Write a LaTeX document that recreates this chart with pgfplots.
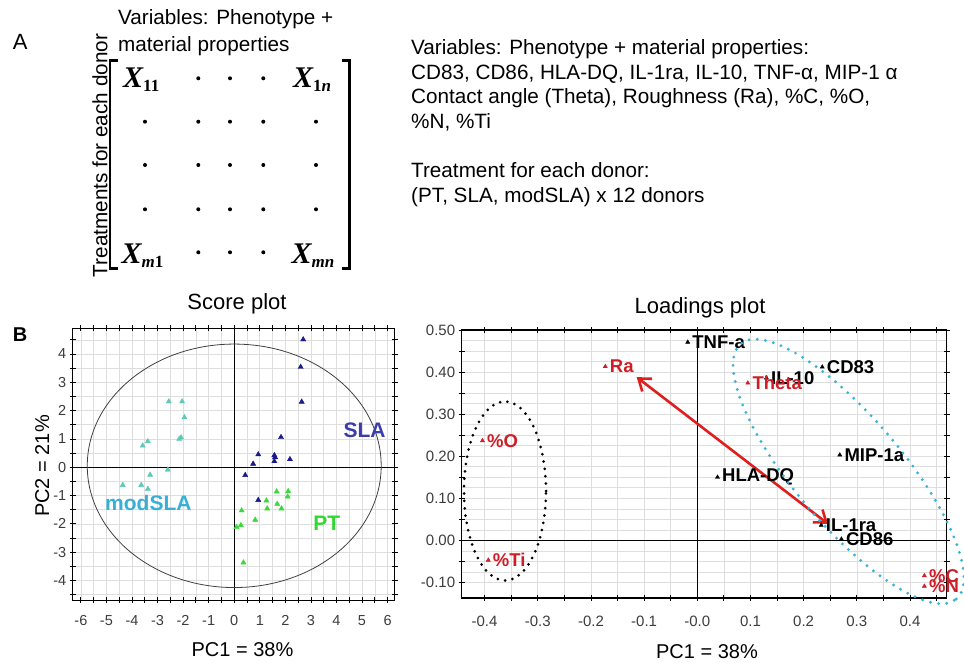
\documentclass[border=0pt]{standalone}
\usepackage{pgfplots}
\pgfplotsset{compat=1.18}
\usepackage{fontspec}
\setmainfont{Liberation Sans}
\newfontfamily\matfont{Liberation Serif}
\usetikzlibrary{arrows.meta}

\definecolor{slaMark}{RGB}{25,25,140}
\definecolor{ptMark}{RGB}{60,215,60}
\definecolor{modMark}{RGB}{95,200,185}
\definecolor{slaText}{RGB}{60,60,170}
\definecolor{ptText}{RGB}{50,215,50}
\definecolor{modText}{RGB}{55,175,215}
\definecolor{loadRed}{RGB}{205,30,40}
\definecolor{arrowRed}{RGB}{225,30,30}
\definecolor{ringCyan}{RGB}{55,180,215}
\definecolor{gridGray}{RGB}{222,222,222}
\definecolor{tickGray}{RGB}{60,60,60}

\newcommand\fs[1]{\fontsize{#1}{#1}\selectfont}
% matrix entry: bold italic X with a bold subscript
\newcommand\matX[1]{{\matfont\fs{30}\bfseries\itshape X}\raisebox{-4pt}{\matfont\fs{17}\bfseries #1}}

% PCA scores (PC1, PC2), one row per donor
\pgfplotstableread{
x y
2.70 4.51
2.60 3.54
2.64 2.31
1.83 1.06
0.94 0.45
1.57 0.42
1.60 0.35
1.57 0.21
2.18 0.28
0.74 0.12
0.43 -0.28
0.94 -1.16
}\slaScores
\pgfplotstableread{
x y
1.66 -0.86
2.11 -0.85
2.09 -1.04
1.26 -1.18
1.29 -1.46
1.68 -1.30
1.85 -1.46
0.29 -1.53
0.82 -1.86
0.26 -2.05
0.09 -2.12
0.36 -3.37
}\ptScores
\pgfplotstableread{
x y
-2.56 2.32
-2.04 2.32
-1.95 1.76
-2.08 1.05
-2.15 1.00
-3.38 0.91
-3.58 0.76
-2.60 -0.09
-3.29 -0.27
-4.36 -0.63
-3.64 -0.63
-3.38 -0.77
}\modScores

\begin{document}
\begin{tikzpicture}[x=1pt,y=1pt]
\path[use as bounding box] (0,0) rectangle (964,662);

% ---------------- Panel A: data matrix ----------------
\node[anchor=base west, font=\fs{22}, inner sep=0] at (12.7,612) {A};
\node[anchor=base west, font=\fs{20.7}, inner sep=0] at (118,637) {Variables: Phenotype +};
\node[anchor=base west, font=\fs{20.7}, inner sep=0] at (118,610) {material properties};
\node[anchor=base, rotate=90, font=\fs{20.7}, inner sep=0] at (107.3,506.5) {Treatments for each donor};

\draw[line width=2.5pt] (118,601.3) -- (110,601.3) -- (110,393.7) -- (118,393.7);
\draw[line width=2.5pt] (341.7,601.3) -- (349.3,601.3) -- (349.3,393.7) -- (341.7,393.7);

\node[anchor=base west, inner sep=0] at (123,574.7) {\matX{11}};
\node[anchor=base west, inner sep=0] at (293,574.7) {\matX{1\textit{n}}};
\node[anchor=base west, inner sep=0] at (121.5,398.7) {\matX{\textit{m}1}};
\node[anchor=base west, inner sep=0] at (291.5,398.7) {\matX{\textit{mn}}};

\foreach \c in {198.3,230,263.3} {
  \fill (\c,583.7) circle (2);
  \fill (\c,409.7) circle (2);
}
\foreach \r in {540.3,497,452.7} {
  \foreach \c in {145,198.3,230,263.3,316} {
    \fill (\c,\r) circle (2);
  }
}

\begin{scope}[every node/.style={anchor=base west, font=\fs{20.7}, inner sep=0}]
\node at (411,607) {Variables: Phenotype + material properties:};
\node at (411,582.7) {CD83, CD86, HLA-DQ, IL-1ra, IL-10, TNF-α, MIP-1 α};
\node at (411,558) {Contact angle (Theta), Roughness (Ra), \%C, \%O,};
\node at (411,533.5) {\%N, \%Ti};
\node at (411,484) {Treatment for each donor:};
\node at (411,459.7) {(PT, SLA, modSLA) x 12 donors};
\end{scope}

% ---------------- Panel B: score plot ----------------
\node[anchor=base west, font=\fs{20}\bfseries, inner sep=0] at (12.7,320.3) {B};
\node[anchor=base, font=\fs{22}, inner sep=0] at (237,352.7) {Score plot};
\node[anchor=base, font=\fs{20}, inner sep=0] at (242.5,5.3) {PC1 = 38\%};
\node[anchor=base, rotate=90, font=\fs{20}, inner sep=0] at (49,196) {PC2 = 21\%};

\begin{axis}[
  at={(72.7pt,62pt)}, anchor=south west, scale only axis,
  width=322.3pt, height=271.5pt,
  xmin=-6.32, xmax=6.29, ymin=-4.69, ymax=4.90,
  xtick={-6,-5.5,-5,-4.5,-4,-3.5,-3,-2.5,-2,-1.5,-1,-0.5,0,0.5,1,1.5,2,2.5,3,3.5,4,4.5,5,5.5,6},
  xticklabels={-6,{},-5,{},-4,{},-3,{},-2,{},-1,{},0,{},1,{},2,{},3,{},4,{},5,{},6},
  ytick={-4.5,-4,-3.5,-3,-2.5,-2,-1.5,-1,-0.5,0,0.5,1,1.5,2,2.5,3,3.5,4,4.5},
  yticklabels={{},-4,{},-3,{},-2,{},-1,{},0,{},1,{},2,{},3,{},4,{}},
  grid=major, major grid style={gridGray, line width=0.6pt},
  tick align=center, major tick length=6pt,
  tick style={black, line width=0.8pt},
  axis line style={black, line width=1pt},
  ticklabel style={font=\fs{14.5}, text=tickGray},
  xticklabel style={yshift=-9pt},
  clip=false,
]
\draw[black, line width=0.9pt] (axis cs:0,-4.69) -- (axis cs:0,4.90);
\draw[black, line width=0.9pt] (axis cs:-6.32,0) -- (axis cs:6.29,0);
\draw[black!75, line width=0.8pt] (axis cs:0,0.05) ellipse [x radius=5.75, y radius=4.3];
\addplot[only marks, mark=triangle*, mark size=3pt, color=modMark] table {\modScores};
\addplot[only marks, mark=triangle*, mark size=3pt, color=ptMark] table {\ptScores};
\addplot[only marks, mark=triangle*, mark size=3pt, color=slaMark] table {\slaScores};
\node[font=\fs{21}\bfseries, text=slaText] at (axis cs:5.1,1.32) {SLA};
\node[font=\fs{21}\bfseries, text=modText] at (axis cs:-3.36,-1.27) {modSLA};
\node[font=\fs{21}\bfseries, text=ptText] at (axis cs:3.62,-1.98) {PT};
\end{axis}

% ---------------- Panel B: loadings plot ----------------
\node[anchor=base, font=\fs{22}, inner sep=0] at (700,348) {Loadings plot};
\node[anchor=base, font=\fs{20}, inner sep=0] at (707,4) {PC1 = 38\%};

\begin{axis}[
  at={(461.7pt,64pt)}, anchor=south west, scale only axis,
  width=485pt, height=268pt,
  xmin=-0.443, xmax=0.469, ymin=-0.137, ymax=0.5,
  xtick={-0.40,-0.35,-0.30,-0.25,-0.20,-0.15,-0.10,-0.05,0,0.05,0.10,0.15,0.20,0.25,0.30,0.35,0.40,0.45},
  xticklabels={-0.4,{},-0.3,{},-0.2,{},-0.1,{},-0.0,{},0.1,{},0.2,{},0.3,{},0.4,{}},
  ytick={-0.10,-0.05,0,0.05,0.10,0.15,0.20,0.25,0.30,0.35,0.40,0.45,0.50},
  yticklabels={-0.10,{},0.00,{},0.10,{},0.20,{},0.30,{},0.40,{},0.50},
  minor y tick num=1,
  grid=both, major grid style={gridGray, line width=0.6pt},
  minor grid style={gridGray, line width=0.6pt},
  tick align=center, major tick length=6pt, minor tick length=0pt,
  tick style={black, line width=0.8pt},
  axis line style={black, line width=1.3pt},
  ticklabel style={font=\fs{15}, text=tickGray},
  xticklabel style={yshift=-11pt},
  clip=false,
  every node near coord/.append style={anchor=west, xshift=3.5pt, inner sep=1pt, font=\fs{18.5}\bfseries},
]
\draw[black, line width=0.9pt] (axis cs:0,-0.137) -- (axis cs:0,0.5);
\draw[black, line width=0.9pt] (axis cs:-0.443,0) -- (axis cs:0.469,0);
% phenotype variables
\addplot[only marks, mark=triangle*, mark size=2.4pt, color=black,
  nodes near coords, point meta=explicit symbolic] coordinates {
  (-0.018,0.471) [TNF-a]
  (0.235,0.412) [CD83]
  (0.130,0.386) [IL-10]
  (0.268,0.203) [MIP-1a]
  (0.038,0.150) [HLA-DQ]
  (0.233,0.036) [IL-1ra]
  (0.271,0.003) [CD86]
};
% material properties
\addplot[only marks, mark=triangle*, mark size=2.4pt, color=loadRed,
  nodes near coords, point meta=explicit symbolic] coordinates {
  (-0.173,0.413) [Ra]
  (0.095,0.374) [Theta]
  (-0.404,0.237) [\%O]
  (-0.393,-0.047) [\%Ti]
  (0.427,-0.084) [\%C]
  (0.427,-0.109) [\%N]
};
\draw[arrowRed, line width=2.6pt,
  {Straight Barb[length=11pt,width=16pt]}-{Straight Barb[length=11pt,width=16pt]}]
  (axis cs:-0.114,0.388) -- (axis cs:0.246,0.039);
\end{axis}

% groupings of variables
\draw[black, line width=3pt, line cap=round, dash pattern=on 0pt off 7.4pt]
  (505,171) ellipse [x radius=41, y radius=89.5];
\draw[ringCyan, line width=3.2pt, line cap=round, dash pattern=on 0pt off 8.2pt]
  (848.5,190.5) ellipse [x radius=167, y radius=54, rotate=-49.8];

\end{tikzpicture}
\end{document}
